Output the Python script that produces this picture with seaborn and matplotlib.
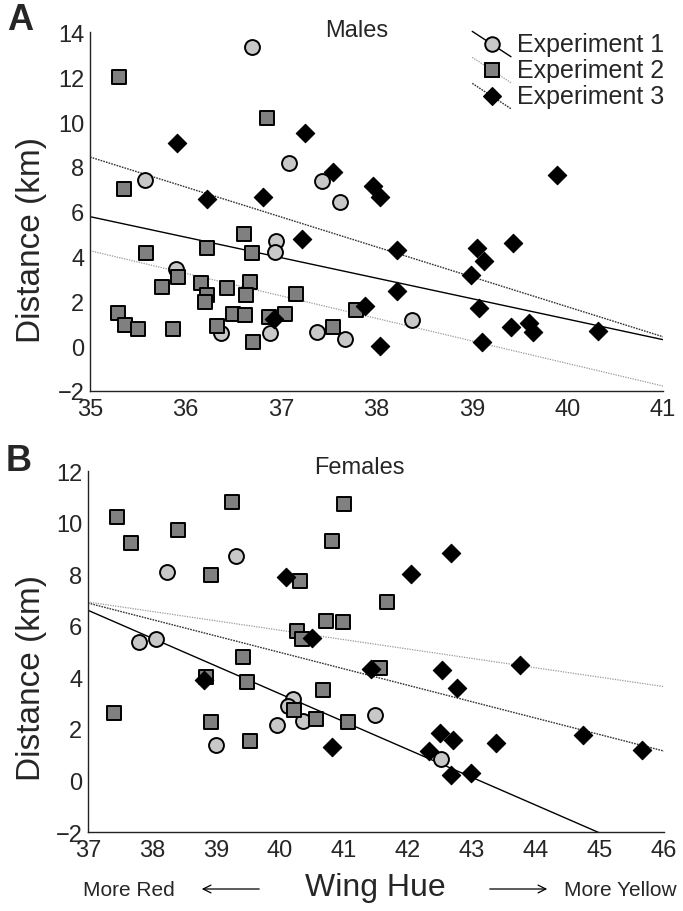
import matplotlib
matplotlib.use("Agg")
import matplotlib.pyplot as plt
from matplotlib.lines import Line2D
from matplotlib.legend_handler import HandlerBase
from matplotlib.ticker import MultipleLocator
import seaborn as sns
import pandas as pd

# ---- Males (panel A) ----
male_e1_x = [36.70, 37.08, 37.43, 35.58, 37.62, 36.95, 36.94, 35.90, 36.37, 36.88, 37.38, 37.67, 38.37]
male_e1_y = [13.37, 8.17, 7.36, 7.43, 6.45, 4.68, 4.19, 3.44, 0.58, 0.57, 0.62, 0.32, 1.17]

male_e2_x = [35.30, 36.85, 35.36, 36.61, 36.70, 36.22, 35.59, 35.92, 35.75, 36.16, 36.22, 36.20, 36.43, 36.68,
             36.63, 37.16, 35.29, 35.37, 35.50, 35.87, 36.33, 36.50, 36.62, 36.71, 36.87, 37.04, 37.54, 37.79]
male_e2_y = [12.03, 10.18, 7.01, 5.00, 4.16, 4.38, 4.16, 3.07, 2.63, 2.80, 2.28, 1.96, 2.59, 2.85,
             2.28, 2.33, 1.48, 0.94, 0.76, 0.76, 0.91, 1.43, 1.39, 0.20, 1.31, 1.43, 0.87, 1.61]

male_e3_x = [35.91, 37.25, 37.54, 37.96, 38.04, 39.89, 36.23, 36.81, 37.22, 38.21, 39.05, 39.43,
             39.12, 38.99, 38.21, 39.07, 36.93, 37.88, 38.04, 39.41, 39.60, 39.64, 40.32, 39.10]
male_e3_y = [9.07, 9.51, 7.76, 7.13, 6.64, 7.65, 6.57, 6.64, 4.78, 4.29, 4.38, 4.59,
             3.79, 3.19, 2.47, 1.70, 1.21, 1.78, 0.02, 0.87, 1.02, 0.62, 0.66, 0.17]

# fitted lines (end points)
male_fit_x = [35, 41]
male_fit_e1 = [5.78, 0.29]
male_fit_e2 = [4.26, -1.78]
male_fit_e3 = [8.44, 0.42]

# ---- Females (panel B) ----
fem_e1_x = [39.31, 38.24, 37.79, 38.07, 40.21, 40.13, 40.36, 39.96, 41.49, 39.00, 42.52]
fem_e1_y = [8.72, 8.10, 5.38, 5.49, 3.16, 2.88, 2.32, 2.15, 2.54, 1.38, 0.83]

fem_e2_x = [37.45, 37.68, 38.40, 39.25, 38.92, 41.00, 40.82, 40.32, 41.68, 40.72, 40.99, 40.26,
            40.34, 39.43, 38.85, 39.48, 41.56, 40.67, 40.22, 40.57, 41.07, 37.41, 38.92, 39.53]
fem_e2_y = [10.20, 9.21, 9.71, 10.79, 7.98, 10.72, 9.30, 7.75, 6.91, 6.20, 6.13, 5.80,
            5.49, 4.78, 4.00, 3.81, 4.35, 3.52, 2.75, 2.38, 2.26, 2.60, 2.26, 1.52]

fem_e3_x = [40.09, 42.04, 42.67, 40.50, 41.42, 38.81, 40.81, 42.53, 43.75, 42.76, 42.50, 42.70,
            42.33, 42.68, 42.98, 43.38, 44.74, 45.65]
fem_e3_y = [7.90, 8.01, 8.82, 5.51, 4.32, 3.90, 1.31, 4.28, 4.48, 3.59, 1.84, 1.58,
            1.13, 0.22, 0.28, 1.45, 1.78, 1.19]

fem_fit_e1_x = [37, 45]
fem_fit_e1 = [6.60, -2.04]
fem_fit_x = [37, 46]
fem_fit_e2 = [6.92, 3.64]
fem_fit_e3 = [6.88, 1.14]

labels = ["Experiment 1", "Experiment 2", "Experiment 3"]

# estilos de cada experimento
styles = {
    "Experiment 1": dict(marker="o", s=115, color="#c8c8c8", edgecolor="black", linewidth=1.4,
                         line_color="black", ls="-", lw=1.0),
    "Experiment 2": dict(marker="s", s=110, color="#808080", edgecolor="black", linewidth=1.4,
                         line_color="#999999", ls=(0, (1, 1)), lw=0.9),
    "Experiment 3": dict(marker="D", s=88, color="black", edgecolor="black", linewidth=0.8,
                         line_color="#333333", ls=(0, (1.2, 0.8)), lw=1.0),
}


class SlantHandler(HandlerBase):
    """Linea inclinada con el marcador en el centro, como en la figura original."""

    def create_artists(self, legend, orig_handle, xdescent, ydescent, width, height, fontsize, trans):
        st = styles[orig_handle.get_label()]
        x0, x1 = -xdescent, -xdescent + width
        y0, y1 = -ydescent + height * 1.15, -ydescent - height * 0.3
        ln = Line2D([x0, x1], [y0, y1], color=st["line_color"], linestyle=st["ls"], linewidth=st["lw"])
        ms = 10.5 if st["marker"] != "D" else 9
        mk = Line2D([(x0 + x1) / 2], [(y0 + y1) / 2], marker=st["marker"], markersize=ms,
                    markerfacecolor=st["color"], markeredgecolor=st["edgecolor"],
                    markeredgewidth=st["linewidth"], linestyle="none")
        ln.set_transform(trans)
        mk.set_transform(trans)
        return [ln, mk]


sns.set_style("white")
plt.rcParams["font.family"] = ["Liberation Sans", "DejaVu Sans"]

fig = plt.figure(figsize=(6.83, 9.12), dpi=100)
axA = fig.add_axes([0.1318, 0.5702, 0.839, 0.3931])
axB = fig.add_axes([0.1288, 0.0866, 0.8433, 0.3958])


def draw_panel(ax, pts, fits):
    # lineas de ajuste primero (quedan debajo de los puntos)
    for lab, (fx, fy) in zip(labels, fits):
        st = styles[lab]
        fit_df = pd.DataFrame({"x": fx, "y": fy})
        sns.lineplot(data=fit_df, x="x", y="y", ax=ax, color=st["line_color"],
                     linestyle=st["ls"], linewidth=st["lw"], zorder=1)
    for lab, (px, py) in zip(labels, pts):
        st = styles[lab]
        df = pd.DataFrame({"x": px, "y": py})
        sns.scatterplot(data=df, x="x", y="y", ax=ax, marker=st["marker"], s=st["s"],
                        color=st["color"], edgecolor=st["edgecolor"], linewidth=st["linewidth"],
                        zorder=2)
    sns.despine(ax=ax)
    for side in ["left", "bottom"]:
        ax.spines[side].set_color("#222222")
        ax.spines[side].set_linewidth(1.0)
    ax.tick_params(which="major", direction="in", length=4, width=0.8, labelsize=17,
                   color="#222222")
    ax.tick_params(axis="x", which="major", pad=5)
    ax.tick_params(axis="y", which="major", pad=4)
    ax.tick_params(which="minor", direction="in", length=2.5, width=0.6, color="#222222")
    ax.xaxis.set_major_locator(MultipleLocator(1))
    ax.xaxis.set_minor_locator(MultipleLocator(0.25))
    ax.yaxis.set_major_locator(MultipleLocator(2))
    ax.yaxis.set_minor_locator(MultipleLocator(1))
    ax.set_xlabel("")
    ax.set_ylabel("")


draw_panel(axA,
           [(male_e1_x, male_e1_y), (male_e2_x, male_e2_y), (male_e3_x, male_e3_y)],
           [(male_fit_x, male_fit_e1), (male_fit_x, male_fit_e2), (male_fit_x, male_fit_e3)])
axA.set_xlim(35, 41)
axA.set_ylim(-2, 14)

draw_panel(axB,
           [(fem_e1_x, fem_e1_y), (fem_e2_x, fem_e2_y), (fem_e3_x, fem_e3_y)],
           [(fem_fit_e1_x, fem_fit_e1), (fem_fit_x, fem_fit_e2), (fem_fit_x, fem_fit_e3)])
axB.set_xlim(37, 46)
axB.set_ylim(-2, 12)

# titulos dentro del panel
axA.text(0.466, 1.008, "Males", transform=axA.transAxes, ha="center", va="center", fontsize=17)
axB.text(0.472, 1.012, "Females", transform=axB.transAxes, ha="center", va="center", fontsize=17)

# leyenda
handles = [Line2D([], [], label=lab) for lab in labels]
axA.legend(handles=handles, labels=labels, handler_map={Line2D: SlantHandler()},
           loc="upper left", bbox_to_anchor=(0.667, 1.0), frameon=False, fontsize=18,
           handlelength=1.55, handletextpad=0.25, labelspacing=0.08, borderpad=0, borderaxespad=0)

# letras de panel y etiquetas de eje
fig.text(20 / 683, 1 - 20 / 912, "A", fontsize=26, fontweight="bold", ha="center", va="center")
fig.text(19 / 683, 1 - 462 / 912, "B", fontsize=26, fontweight="bold", ha="center", va="center")
fig.text(32 / 683, 1 - 240 / 912, "Distance (km)", fontsize=24, rotation=90, ha="center", va="center")
fig.text(32 / 683, 1 - 678 / 912, "Distance (km)", fontsize=24, rotation=90, ha="center", va="center")

fig.text(375 / 683, 1 - 888 / 912, "Wing Hue", fontsize=23, ha="center", va="center")
fig.text(129 / 683, 1 - 891 / 912, "More Red", fontsize=15, ha="center", va="center")
fig.text(620 / 683, 1 - 891 / 912, "More Yellow", fontsize=15, ha="center", va="center")
fig.patches.append(matplotlib.patches.FancyArrowPatch((262 / 683, 1 - 890 / 912), (199 / 683, 1 - 890 / 912),
                                                      transform=fig.transFigure, arrowstyle="->",
                                                      mutation_scale=14, linewidth=0.9, color="black"))
fig.patches.append(matplotlib.patches.FancyArrowPatch((487 / 683, 1 - 890 / 912), (550 / 683, 1 - 890 / 912),
                                                      transform=fig.transFigure, arrowstyle="->",
                                                      mutation_scale=14, linewidth=0.9, color="black"))

fig.savefig("out.png", dpi=100, facecolor="white")
